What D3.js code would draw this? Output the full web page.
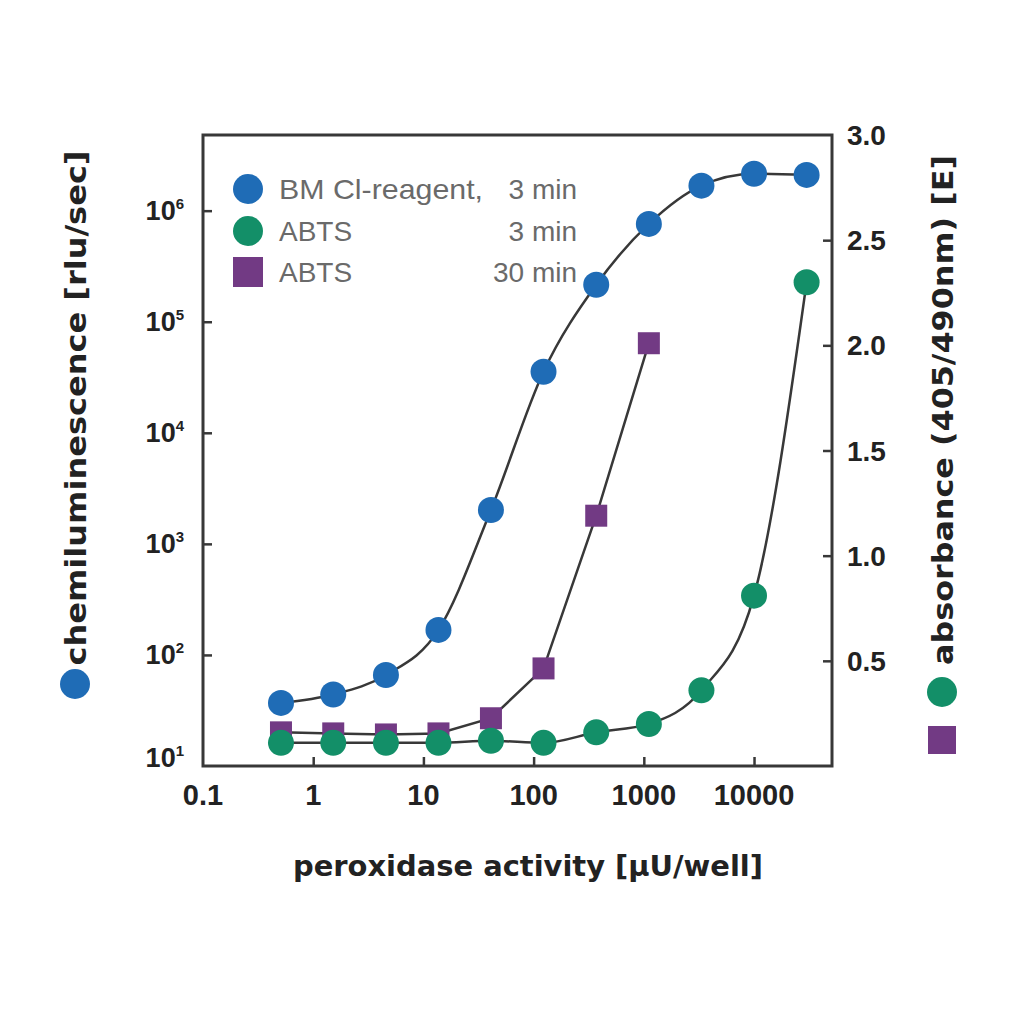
<!DOCTYPE html>
<html><head><meta charset="utf-8">
<script src="https://cdn.jsdelivr.net/npm/d3@7/dist/d3.min.js"></script>
<style>html,body{margin:0;padding:0;background:#fff;}</style>
</head><body>
<svg id="c" width="1024" height="1024"></svg>
<script>
// ---- data ----
const activity = [0.51, 1.52, 4.57, 13.7, 41, 123, 370, 1111, 3333, 10000, 30000];
const chemiBM = [37, 44, 66, 168, 2020, 35500, 215000, 760000, 1680000, 2150000, 2100000];
const absABTS3 = [0.11, 0.11, 0.11, 0.11, 0.12, 0.11, 0.16, 0.20, 0.36, 0.81, 2.30];
const absABTS30 = [0.16, 0.155, 0.15, 0.155, 0.227, 0.464, 1.19, 2.01];
const xTicks = [0.1, 1, 10, 100, 1000, 10000];
const xTickLabels = ["0.1", "1", "10", "100", "1000", "10000"];
const yLeftTicks = [10, 100, 1000, 10000, 100000, 1000000];
const yLeftExp = ["1", "2", "3", "4", "5", "6"];
const yRightTicks = [0.5, 1.0, 1.5, 2.0, 2.5, 3.0];
const legendNames = ["BM Cl-reagent,", "ABTS", "ABTS"];
const legendTimes = ["3 min", "3 min", "30 min"];

// ---- layout ----
const L = 203, R = 832, T = 135, B = 766;
const blue = "#1f6cb6", green = "#138f68", purple = "#723a84", ink = "#383838";
const svg = d3.select("#c");

const x = d3.scaleLog().domain([0.1, 51000]).range([L, R]);
const yL = d3.scaleLog().domain([10, 4.8e6]).range([B, T]);
const yR = d3.scaleLinear().domain([0, 3.0]).range([B, T]);

// axes (inner ticks)
const gx = svg.append("g").attr("transform", `translate(0,${B})`)
  .call(d3.axisBottom(x).tickValues(xTicks.slice(1)).tickSize(-9).tickFormat(""));
const gyl = svg.append("g").attr("transform", `translate(${L},0)`)
  .call(d3.axisLeft(yL).tickValues(yLeftTicks.slice(1)).tickSize(-9).tickFormat(""));
const gyr = svg.append("g").attr("transform", `translate(${R},0)`)
  .call(d3.axisRight(yR).tickValues(yRightTicks.slice(0, 5)).tickSize(-9).tickFormat(""));
[gx, gyl, gyr].forEach(g => {
  g.select(".domain").remove();
  g.selectAll(".tick line").attr("stroke", ink).attr("stroke-width", 2.5);
});

// frame
svg.append("rect").attr("x", L).attr("y", T).attr("width", R - L).attr("height", B - T)
  .attr("fill", "none").attr("stroke", ink).attr("stroke-width", 3);

// tick labels
svg.append("g").selectAll("text").data(xTicks).join("text")
  .attr("x", d => x(d)).attr("y", 805).attr("text-anchor", "middle")
  .attr("font-family", "Liberation Sans, Arial, sans-serif").attr("font-weight", "bold")
  .attr("font-size", 29).attr("fill", "#222")
  .text((d, i) => xTickLabels[i]);

const ylab = svg.append("g").selectAll("text").data(yLeftTicks).join("text")
  .attr("x", 184).attr("y", (d, i) => Math.min(yL(d), 758) + 9).attr("text-anchor", "end")
  .attr("font-family", "Liberation Sans, Arial, sans-serif").attr("font-weight", "bold")
  .attr("font-size", 27).attr("fill", "#222");
ylab.append("tspan").text("10");
ylab.append("tspan").attr("dy", -11).attr("font-size", 15).text((d, i) => yLeftExp[i]);

svg.append("g").selectAll("text").data(yRightTicks).join("text")
  .attr("x", 847).attr("y", d => yR(d) + 10).attr("text-anchor", "start")
  .attr("font-family", "Liberation Sans, Arial, sans-serif").attr("font-weight", "bold")
  .attr("font-size", 28).attr("fill", "#222")
  .text(d => d.toFixed(1));

// lines
const ptsBM = activity.map((a, i) => [x(a), yL(chemiBM[i])]);
const pts3 = activity.map((a, i) => [x(a), yR(absABTS3[i])]);
const pts30 = absABTS30.map((v, i) => [x(activity[i]), yR(v)]);
const smooth = d3.line().curve(d3.curveMonotoneX);
const straight = d3.line();
svg.append("path").attr("d", smooth(pts3)).attr("fill", "none").attr("stroke", ink).attr("stroke-width", 2.5);
svg.append("path").attr("d", straight(pts30)).attr("fill", "none").attr("stroke", ink).attr("stroke-width", 2.5);
svg.append("path").attr("d", smooth(ptsBM)).attr("fill", "none").attr("stroke", ink).attr("stroke-width", 2.5);

// markers
const sq = 22;
svg.append("g").selectAll("rect").data(pts30).join("rect")
  .attr("x", d => d[0] - sq / 2).attr("y", d => d[1] - sq / 2).attr("width", sq).attr("height", sq)
  .attr("fill", purple);
svg.append("g").selectAll("circle").data(pts3).join("circle")
  .attr("cx", d => d[0]).attr("cy", d => d[1]).attr("r", 13).attr("fill", green);
svg.append("g").selectAll("circle").data(ptsBM).join("circle")
  .attr("cx", d => d[0]).attr("cy", d => d[1]).attr("r", 13).attr("fill", blue);

// legend
const legY = [189, 231, 272];
const legG = svg.append("g");
legG.append("circle").attr("cx", 248).attr("cy", legY[0]).attr("r", 15).attr("fill", blue);
legG.append("circle").attr("cx", 248).attr("cy", legY[1]).attr("r", 15).attr("fill", green);
legG.append("rect").attr("x", 233).attr("y", legY[2] - 15).attr("width", 30).attr("height", 30).attr("fill", purple);
legG.selectAll("text.n").data(legendNames).join("text").attr("class", "n")
  .attr("x", 279).attr("y", (d, i) => legY[i]).attr("dy", "0.36em")
  .attr("font-family", "Liberation Sans, Arial, sans-serif").attr("font-size", 28).attr("fill", "#6a6a6a")
  .each(function (d, i) { if (i === 0) d3.select(this).attr("textLength", 204).attr("lengthAdjust", "spacingAndGlyphs"); })
  .text(d => d);
legG.selectAll("text.t").data(legendTimes).join("text").attr("class", "t")
  .attr("x", 577).attr("y", (d, i) => legY[i]).attr("dy", "0.36em").attr("text-anchor", "end")
  .attr("font-family", "Liberation Sans, Arial, sans-serif").attr("font-size", 28).attr("fill", "#6a6a6a")
  .text(d => d);

// axis titles
svg.append("text").attr("x", 528).attr("y", 876).attr("text-anchor", "middle")
  .attr("font-family", "DejaVu Sans, sans-serif").attr("font-weight", "bold").attr("font-size", 28)
  .attr("fill", "#222").attr("textLength", 470).attr("lengthAdjust", "spacingAndGlyphs")
  .text("peroxidase activity [µU/well]");

svg.append("text").attr("transform", "translate(86,408) rotate(-90)").attr("text-anchor", "middle")
  .attr("font-family", "DejaVu Sans, sans-serif").attr("font-weight", "bold").attr("font-size", 29)
  .attr("fill", "#222").attr("textLength", 515).attr("lengthAdjust", "spacingAndGlyphs")
  .text("chemiluminescence [rlu/sec]");
svg.append("circle").attr("cx", 75).attr("cy", 684).attr("r", 15).attr("fill", blue);

svg.append("text").attr("transform", "translate(953,410) rotate(-90)").attr("text-anchor", "middle")
  .attr("font-family", "DejaVu Sans, sans-serif").attr("font-weight", "bold").attr("font-size", 29)
  .attr("fill", "#222").attr("textLength", 510).attr("lengthAdjust", "spacingAndGlyphs")
  .text("absorbance (405/490nm) [E]");
svg.append("circle").attr("cx", 942).attr("cy", 692).attr("r", 15).attr("fill", green);
svg.append("rect").attr("x", 928).attr("y", 726).attr("width", 28).attr("height", 28).attr("fill", purple);
</script>
</body></html>
